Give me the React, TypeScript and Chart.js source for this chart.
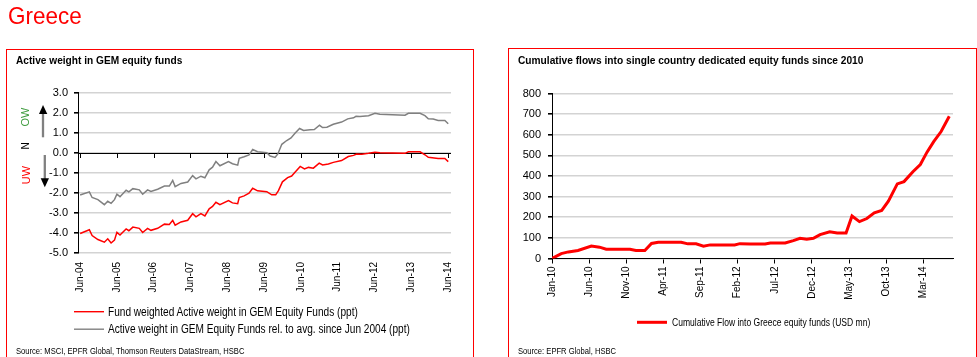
import React, { useEffect, useLayoutEffect, useRef, useState } from 'react';
import { Chart, registerables } from 'chart.js';

Chart.register(...registerables);

const FONT = "'Liberation Sans', Arial, Helvetica, sans-serif";

// ---------- Left chart: Active weight in GEM equity funds (months since Jun-04) ----------
const leftTickMonths = [0, 12, 24, 36, 48, 60, 72, 84, 96, 108, 120];
const leftTickLabels = ['Jun-04', 'Jun-05', 'Jun-06', 'Jun-07', 'Jun-08', 'Jun-09', 'Jun-10', 'Jun-11', 'Jun-12', 'Jun-13', 'Jun-14'];
const leftYTicks = [3, 2, 1, 0, -1, -2, -3, -4, -5];

const fundMonths = [0, 3.0, 3.9, 5.8, 7.9, 9.0, 10.1, 11.2, 12, 13, 15, 15.9, 17.2, 19.3, 20.4, 22, 23.1, 25.3, 27.5, 29.1, 30.2, 31.0, 32.9, 35.1, 36.7, 37.8, 39.4, 40.7, 42.1, 43.2, 44.3, 45.6, 48.4, 49.7, 51.4, 51.9, 53.5, 55.1, 56.3, 57.9, 60.9, 62.5, 63.8, 64.7, 66, 67.7, 69, 70.1, 71.8, 73.2, 74.5, 76.1, 78, 79.1, 81, 82.6, 85.3, 87.5, 89.2, 90.2, 91.9, 94.1, 96.2, 97.8, 106, 107.1, 110.9, 112.5, 113.6, 116.8, 119, 120.1];
const fundValues = [-4.03, -3.84, -4.13, -4.33, -4.46, -4.29, -4.50, -4.36, -3.97, -4.10, -3.80, -3.89, -3.71, -3.77, -3.98, -3.77, -3.87, -3.77, -3.56, -3.58, -3.37, -3.61, -3.45, -3.37, -3.04, -3.20, -3.04, -3.15, -2.80, -2.68, -2.47, -2.59, -2.39, -2.50, -2.54, -2.23, -2.15, -2.02, -1.77, -1.90, -1.94, -2.10, -2.10, -1.89, -1.45, -1.24, -1.16, -0.97, -0.68, -0.81, -0.73, -0.77, -0.52, -0.61, -0.56, -0.48, -0.39, -0.19, -0.13, -0.06, -0.08, -0.03, 0.03, 0.00, -0.03, 0.05, 0.05, -0.10, -0.23, -0.29, -0.29, -0.44];

const relMonths = [0, 3.0, 3.9, 5.8, 7.9, 9.0, 10.1, 11.2, 12, 13, 15, 15.9, 17.2, 19.3, 20.4, 22, 23.1, 25.3, 27.5, 29.1, 30.2, 31.0, 32.9, 35.1, 36.7, 37.8, 39.4, 40.7, 42.1, 43.2, 44.3, 45.6, 48.4, 49.7, 51.4, 51.9, 53.5, 55.1, 56.3, 57.9, 60.9, 62, 63.6, 64.5, 65.8, 67.4, 68.8, 70.1, 71.6, 72.9, 75, 76.4, 78.1, 79.1, 80.5, 82.6, 85.3, 87.3, 89.2, 90, 91.3, 94.1, 96.2, 97.8, 106, 107.1, 110.9, 112.5, 113.6, 115.2, 116.8, 119, 120.1];
const relValues = [-2.11, -1.95, -2.23, -2.34, -2.59, -2.42, -2.52, -2.34, -2.07, -2.19, -1.87, -1.95, -1.79, -1.85, -2.07, -1.85, -1.93, -1.82, -1.66, -1.66, -1.38, -1.69, -1.53, -1.46, -1.14, -1.30, -1.17, -1.25, -0.85, -0.72, -0.44, -0.65, -0.44, -0.55, -0.62, -0.28, -0.20, -0.11, 0.16, 0.05, 0.00, -0.16, -0.23, -0.06, 0.42, 0.61, 0.74, 0.97, 1.21, 1.11, 1.15, 1.16, 1.37, 1.26, 1.27, 1.42, 1.53, 1.69, 1.74, 1.82, 1.81, 1.85, 1.97, 1.92, 1.87, 1.97, 1.97, 1.85, 1.69, 1.68, 1.61, 1.61, 1.45];

// ---------- Right chart: cumulative flows (months since Jan-10) ----------
const rightTickMonths = [0, 5, 10, 15, 20, 25, 30, 35, 40, 45, 50];
const rightTickLabels = ['Jan-10', 'Jun-10', 'Nov-10', 'Apr-11', 'Sep-11', 'Feb-12', 'Jul-12', 'Dec-12', 'May-13', 'Oct-13', 'Mar-14'];

const flowMonths = [0, 1.25, 2.2, 3.5, 5.3, 6.4, 7.3, 10.5, 11.3, 12.5, 13.4, 14.3, 17.4, 18.3, 19.4, 20.4, 21.3, 24.6, 25.3, 26.7, 28.7, 29.4, 31.4, 32.5, 33.4, 34.3, 35.2, 36.1, 37.4, 38.4, 39.6, 40.4, 41.4, 42.4, 43.4, 44.4, 45.3, 46.5, 47.4, 48.6, 49.6, 50.5, 51.4, 52.4, 53.5];
const flowValues = [0, 24, 32, 39, 60, 55, 45, 45, 39, 39, 73, 79, 79, 71, 71, 60, 66, 66, 72, 70, 70, 75, 75, 87, 98, 94, 98, 116, 130, 124, 124, 206, 179, 194, 222, 233, 278, 362, 373, 421, 456, 516, 567, 616, 690];

const GRID = '#d3d3d3';

const zeroLinePlugin = {
  id: 'zeroTicks',
  beforeDatasetsDraw(chart: any) {
    const xs = chart.scales.x;
    const ys = chart.scales.y;
    const ctx = chart.ctx;
    const y0 = ys.getPixelForValue(0);
    ctx.save();
    ctx.strokeStyle = '#000';
    ctx.lineWidth = 1;
    ctx.beginPath();
    ctx.moveTo(chart.chartArea.left, Math.round(y0) + 0.5);
    ctx.lineTo(chart.chartArea.right, Math.round(y0) + 0.5);
    for (const m of leftTickMonths) {
      const x = Math.round(xs.getPixelForValue(m)) + 0.5;
      ctx.moveTo(x, Math.round(y0));
      ctx.lineTo(x, Math.round(y0) + 5);
    }
    ctx.stroke();
    ctx.restore();
  },
};

function LeftChart() {
  const ref = useRef<HTMLCanvasElement>(null);
  useEffect(() => {
    const chart = new Chart(ref.current as HTMLCanvasElement, {
      type: 'line',
      data: {
        datasets: [
          {
            data: fundMonths.map((m, i) => ({ x: m, y: fundValues[i] })),
            borderColor: '#ff0000',
            borderWidth: 1.5,
            pointRadius: 0,
            tension: 0,
          },
          {
            data: relMonths.map((m, i) => ({ x: m, y: relValues[i] })),
            borderColor: '#808080',
            borderWidth: 1.5,
            pointRadius: 0,
            tension: 0,
          },
        ],
      },
      options: {
        animation: false,
        responsive: false,
        devicePixelRatio: 1,
        layout: { padding: { left: 0, top: 10, right: 19, bottom: 0 } },
        plugins: { legend: { display: false }, tooltip: { enabled: false } },
        scales: {
          x: {
            type: 'linear',
            min: -0.7,
            max: 121,
            afterBuildTicks: (s: any) => {
              s.ticks = leftTickMonths.map((v) => ({ value: v }));
            },
            afterFit: (s: any) => {
              s.height = 57;
            },
            ticks: {
              autoSkip: false,
              maxRotation: 90,
              minRotation: 90,
              padding: 9,
              color: '#000',
              font: { family: FONT, size: 10 },
              callback: (v: any) => leftTickLabels[leftTickMonths.indexOf(Number(v))] ?? '',
            },
            grid: { display: false, drawTicks: false },
            border: { display: false },
          },
          y: {
            min: -5,
            max: 3,
            afterBuildTicks: (s: any) => {
              s.ticks = leftYTicks.map((v) => ({ value: v }));
            },
            afterFit: (s: any) => {
              s.width = 78;
            },
            ticks: {
              padding: 6,
              color: '#000',
              font: { family: FONT, size: 11 },
              callback: (v: any) => Number(v).toFixed(1),
            },
            grid: {
              color: GRID,
              lineWidth: 1.6,
              tickColor: '#000',
              tickLength: 4,
            },
            border: { color: '#000', width: 1 },
          },
        },
      },
      plugins: [zeroLinePlugin],
    } as any);
    return () => chart.destroy();
  }, []);
  return <canvas ref={ref} width={470} height={230} style={{ position: 'absolute', left: 0, top: 80 }} />;
}

function RightChart() {
  const ref = useRef<HTMLCanvasElement>(null);
  useEffect(() => {
    const chart = new Chart(ref.current as HTMLCanvasElement, {
      type: 'line',
      data: {
        datasets: [
          {
            data: flowMonths.map((m, i) => ({ x: m, y: flowValues[i] })),
            borderColor: '#ff0000',
            borderWidth: 3,
            pointRadius: 0,
            tension: 0,
          },
        ],
      },
      options: {
        animation: false,
        responsive: false,
        devicePixelRatio: 1,
        layout: { padding: { left: 0, top: 10, right: 17, bottom: 0 } },
        plugins: { legend: { display: false }, tooltip: { enabled: false } },
        scales: {
          x: {
            type: 'linear',
            min: 0,
            max: 54,
            afterBuildTicks: (s: any) => {
              s.ticks = rightTickMonths.map((v) => ({ value: v }));
            },
            afterFit: (s: any) => {
              s.height = 51.5;
            },
            ticks: {
              autoSkip: false,
              maxRotation: 90,
              minRotation: 90,
              padding: 3,
              color: '#000',
              font: { family: FONT, size: 10 },
              callback: (v: any) => rightTickLabels[rightTickMonths.indexOf(Number(v))] ?? '',
            },
            grid: { drawOnChartArea: false, drawTicks: true, tickLength: 5, color: '#000', tickColor: '#000' },
            border: { color: '#000', width: 1 },
          },
          y: {
            min: 0,
            max: 800,
            ticks: {
              stepSize: 100,
              padding: 7,
              color: '#000',
              font: { family: FONT, size: 11 },
            },
            afterFit: (s: any) => {
              s.width = 62;
            },
            grid: { color: GRID, lineWidth: 1.6, tickColor: '#000', tickLength: 4 },
            border: { color: '#000', width: 1 },
          },
        },
      },
    } as any);
    return () => chart.destroy();
  }, []);
  return <canvas ref={ref} width={480} height={230} style={{ position: 'absolute', left: 490, top: 80 }} />;
}

function FitText({ text, width, left, top, size, bold, color }: { text: string; width: number; left: number; top: number; size: number; bold?: boolean; color?: string }) {
  const ref = useRef<HTMLSpanElement>(null);
  const [scale, setScale] = useState(1);
  useLayoutEffect(() => {
    const el = ref.current;
    if (!el) return;
    const w = el.offsetWidth;
    if (w > 0) setScale(width / w);
  }, [text, width]);
  return (
    <span
      ref={ref}
      style={{
        position: 'absolute',
        left,
        top,
        fontFamily: FONT,
        fontSize: size,
        lineHeight: `${size}px`,
        fontWeight: bold ? 'bold' : 'normal',
        color: color ?? '#000',
        whiteSpace: 'nowrap',
        transformOrigin: '0 50%',
        transform: `scaleX(${scale})`,
        zIndex: 2,
      }}
    >
      {text}
    </span>
  );
}

function Rot({ text, cx, cy, color, size }: { text: string; cx: number; cy: number; color: string; size: number }) {
  return (
    <div
      style={{
        position: 'absolute',
        left: cx,
        top: cy,
        transform: 'translate(-50%, -50%) rotate(-90deg)',
        fontFamily: FONT,
        fontSize: size,
        lineHeight: `${size}px`,
        color,
        whiteSpace: 'nowrap',
        zIndex: 2,
      }}
    >
      {text}
    </div>
  );
}

export default function App() {
  return (
    <div style={{ position: 'fixed', left: 0, top: 0, width: 977, height: 357, background: '#fff', overflow: 'hidden' }}>
      <FitText text="Greece" width={74} left={8} top={3.5} size={24} color="#ff0000" />

      <div style={{ position: 'absolute', left: 6, top: 49, width: 468, height: 340, border: '1px solid #ff0000', boxSizing: 'border-box' }} />
      <div style={{ position: 'absolute', left: 508, top: 48, width: 469, height: 340, border: '1px solid #ff0000', boxSizing: 'border-box' }} />

      <FitText text="Active weight in GEM equity funds" width={166} left={16} top={54.5} size={11} bold />
      <FitText text="Cumulative flows into single country dedicated equity funds since 2010" width={345} left={518} top={54.5} size={11} bold />

      <LeftChart />
      <RightChart />

      <Rot text="OW" cx={25} cy={116.7} color="#3b9a3b" size={11} />
      <Rot text="N" cx={25.7} cy={146.3} color="#000" size={10} />
      <Rot text="UW" cx={25.7} cy={175} color="#ff0000" size={11} />

      <svg width={977} height={357} style={{ position: 'absolute', left: 0, top: 0, zIndex: 1, pointerEvents: 'none' }}>
        <line x1={43} y1={113} x2={43} y2={137.3} stroke="#808080" strokeWidth={2.3} />
        <polygon points="39,114 47.3,114 43,105" fill="#000" />
        <line x1={44.8} y1={155} x2={44.8} y2={179} stroke="#808080" strokeWidth={2.3} />
        <polygon points="40.7,178.3 49,178.3 44.8,187.3" fill="#000" />

        <line x1={74} y1={311.7} x2={104} y2={311.7} stroke="#ff0000" strokeWidth={1.4} />
        <line x1={74} y1={329.2} x2={104} y2={329.2} stroke="#808080" strokeWidth={1.4} />
        <line x1={637} y1={322.3} x2={667} y2={322.3} stroke="#ff0000" strokeWidth={3} />
      </svg>

      <FitText text="Fund weighted Active weight in GEM Equity Funds (ppt)" width={250} left={108.3} top={305.7} size={12} />
      <FitText text="Active weight in GEM Equity Funds rel. to avg. since Jun 2004 (ppt)" width={302} left={108.3} top={323.2} size={12} />
      <FitText text="Cumulative Flow into Greece equity funds (USD mn)" width={198} left={671.7} top={317.5} size={10} />

      <FitText text="Source: MSCI, EPFR Global, Thomson Reuters DataStream, HSBC" width={228} left={16} top={347.3} size={9} />
      <FitText text="Source: EPFR Global, HSBC" width={98} left={518} top={347.3} size={9} />
    </div>
  );
}
